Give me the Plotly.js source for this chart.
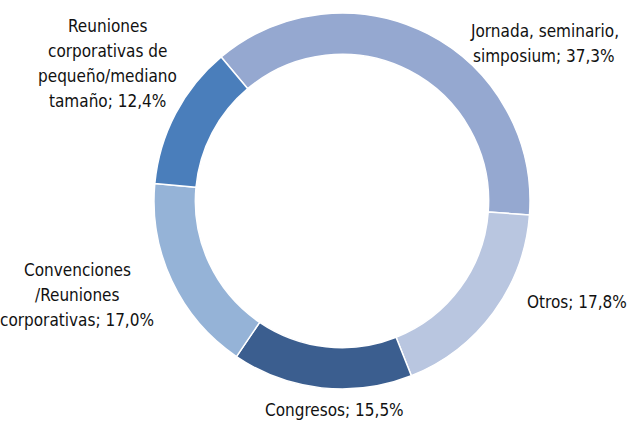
<!DOCTYPE html>
<html>
<head>
<meta charset="utf-8">
<script src="https://cdn.plot.ly/plotly-3.0.1.min.js"></script>
<style>
  html, body { margin: 0; padding: 0; background: #fff; }
  #chart { width: 629px; height: 421px; }
</style>
</head>
<body>
<div id="chart"></div>
<script>
    // Data
    var categories = [
        'Jornada, seminario, simposium',
        'Otros',
        'Congresos',
        'Convenciones /Reuniones corporativas',
        'Reuniones corporativas de pequeño/mediano tamaño'
    ];
    var shares = [37.3, 17.8, 15.5, 17.0, 12.4];
    var sliceColors = ['#95a8d0', '#b9c6e0', '#3b5e8f', '#95b3d7', '#4a7ebb'];
    var labelLines = [
        ['Jornada, seminario,', 'simposium'],
        ['Otros'],
        ['Congresos'],
        ['Convenciones', '/Reuniones', 'corporativas'],
        ['Reuniones', 'corporativas de', 'pequeño/mediano', 'tamaño']
    ];

    function fmt(v) {
        return v.toFixed(1).replace('.', ',') + '%';
    }

    var W = 629, H = 421;
    var cx = 342, cy = 201, r = 188;

    var trace = {
        type: 'pie',
        labels: categories,
        values: shares,
        sort: false,
        direction: 'clockwise',
        rotation: -40,
        hole: 0.78,
        marker: {
            colors: sliceColors,
            line: { color: '#ffffff', width: 1.5 }
        },
        textinfo: 'none',
        hoverinfo: 'label+percent',
        domain: {
            x: [(cx - r) / W, (cx + r) / W],
            y: [(H - cy - r) / H, (H - cy + r) / H]
        }
    };

    // centre x and first-line y of each label block, in pixels
    var labelPos = [
        [544, 31],
        [577, 302],
        [334, 410],
        [77, 270],
        [107, 26]
    ];
    var lineStep = 25;
    var labelFont = { family: '"DejaVu Sans Condensed", "DejaVu Sans", sans-serif', size: 17, color: '#111' };

    var annotations = [];
    labelLines.forEach(function (lines, i) {
        lines.forEach(function (t, j) {
            if (j === lines.length - 1) t += '; ' + fmt(shares[i]);
            annotations.push({
                text: t,
                xref: 'paper', yref: 'paper',
                x: labelPos[i][0] / W,
                y: 1 - (labelPos[i][1] + j * lineStep) / H,
                xanchor: 'center', yanchor: 'middle',
                showarrow: false,
                font: labelFont
            });
        });
    });

    var layout = {
        width: W,
        height: H,
        margin: { t: 0, r: 0, b: 0, l: 0 },
        showlegend: false,
        paper_bgcolor: '#ffffff',
        annotations: annotations
    };

    Plotly.newPlot('chart', [trace], layout, { displayModeBar: false, staticPlot: true });
</script>
</body>
</html>
